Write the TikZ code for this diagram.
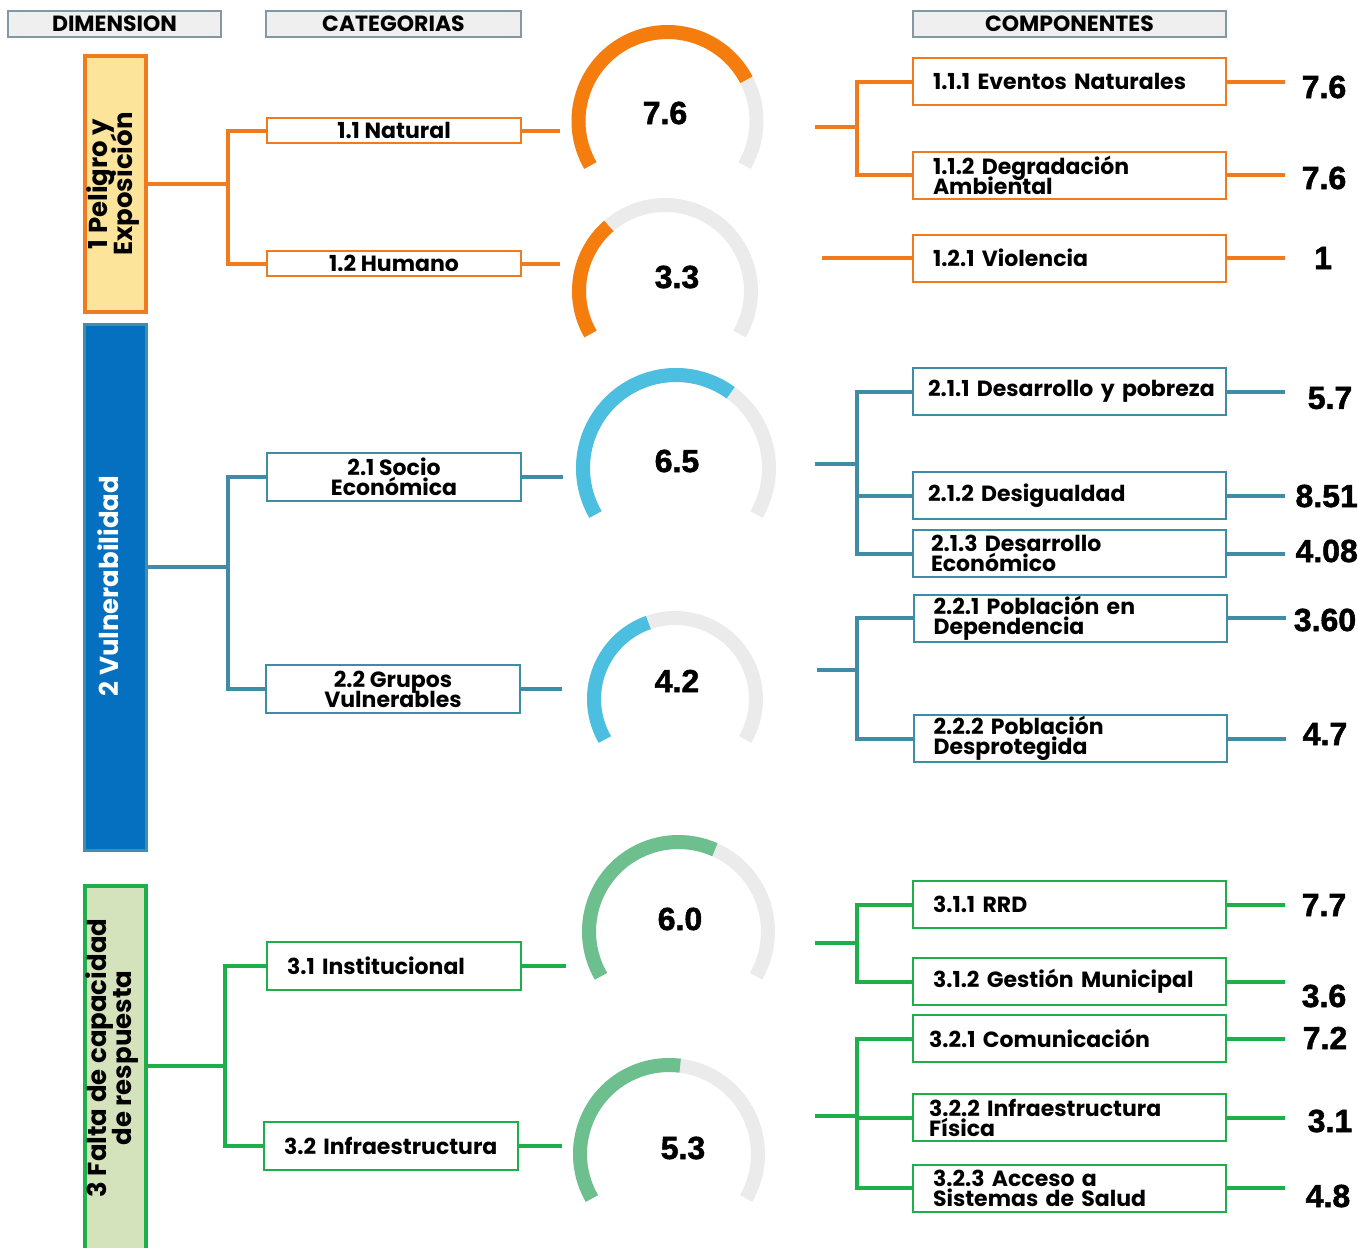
\documentclass[tikz,border=0pt]{standalone}
\usepackage{fontspec}
\setmainfont{Poppins}
\newfontfamily\numfont[BoldFeatures={FakeBold=1.6}]{Liberation Sans}
\newcommand\tightlines{\lineskiplimit=-30pt\relax}
\definecolor{orL}{HTML}{F07B1E}
\definecolor{yelF}{HTML}{FDE49B}
\definecolor{bluF}{HTML}{0570C0}
\definecolor{bluB}{HTML}{3E90A8}
\definecolor{tealL}{HTML}{3E8CA5}
\definecolor{grnL}{HTML}{1CAF4B}
\definecolor{grnF}{HTML}{D5E3BC}
\definecolor{hdrF}{HTML}{EFEFEF}
\definecolor{hdrB}{HTML}{8299A5}
\definecolor{gGray}{HTML}{EBEBEB}
\definecolor{gOr}{HTML}{F57D0D}
\definecolor{gBlu}{HTML}{4CBEE0}
\definecolor{gGrn}{HTML}{6DBF8E}
\newcommand\gaugedraw[6]{%
  \coordinate (#1) at (#2,#3);
  \draw[line width=14pt, gGray] (#1) ++(210:#4pt) arc[start angle=210, end angle=-30, radius=#4pt];
  \draw[line width=14pt, #6] (#1) ++(210:#4pt) arc[start angle=210, end angle={210-24*#5}, radius=#4pt];
}
\begin{document}
\begin{tikzpicture}[x=1pt,y=-1pt,
  hdr/.style={draw=hdrB, fill=hdrF, line width=2pt, minimum width=#1, minimum height=26pt, inner sep=0pt, font=\fontsize{22}{22}\selectfont\bfseries},
  dimtxt/.style={rotate=90, align=center, font=\fontsize{26}{25}\selectfont\bfseries\tightlines},
  cat/.style={draw=#1, fill=white, line width=2pt, minimum width=254pt, inner sep=0pt, align=center, font=\fontsize{22}{20}\selectfont\bfseries\tightlines},
  catl/.style={cat=#1, inner xsep=20pt, text width=214pt, align=left},
  comp/.style={draw=#1, fill=white, line width=2pt, minimum width=313pt, minimum height=47pt, inner xsep=20pt, inner ysep=0pt, text width=273pt, align=left, font=\fontsize{22}{20}\selectfont\bfseries\tightlines},
  conn/.style={draw=#1, line width=4pt},
  val/.style={font=\numfont\fontsize{32}{32}\selectfont\bfseries},
  gval/.style={font=\numfont\fontsize{32}{32}\selectfont\bfseries},
]
\useasboundingbox (0,0) rectangle (1358,1248);

% headers
\node[hdr=213pt] (hdim) at (114.5,24) {DIMENSION};
\node[hdr=255pt] (hcat) at (393.5,24) {CATEGORIAS};
\node[hdr=313pt] (hcomp) at (1069.5,24) {COMPONENTES};

% dimension boxes
\node[draw=orL, fill=yelF, line width=4pt, minimum width=61pt, minimum height=256pt, inner sep=0pt] (d1) at (115.5,184) {};
\node[dimtxt] (d1t) at (113,184) {1 Peligro y\\Exposición};
\node[draw=bluB, fill=bluF, line width=3pt, minimum width=62pt, minimum height=526pt, inner sep=0pt] (d2) at (115.5,587.5) {};
\node[dimtxt, text=white] (d2t) at (108,586) {2 Vulnerabilidad};
\node[draw=grnL, fill=grnF, line width=4pt, minimum width=61pt, minimum height=376pt, inner sep=0pt] (d3) at (115.5,1074) {};
\node[dimtxt] (d3t) at (112,1058) {3 Falta de capacidad\\de respuesta};

% category boxes
\node[cat=orL, minimum height=25pt] (c11) at (394,130.5) {1.1 Natural};
\node[cat=orL, minimum height=25pt] (c12) at (394,263.5) {1.2 Humano};
\node[cat=tealL, minimum height=48pt] (c21) at (394,477) {2.1 Socio\\Económica};
\node[cat=tealL, minimum height=48pt] (c22) at (393,689) {2.2 Grupos\\Vulnerables};
\node[catl=grnL, minimum height=48pt] (c31) at (394,966) {3.1 Institucional};
\node[catl=grnL, minimum height=48pt] (c32) at (391,1146) {3.2 Infraestructura};

% dimension -> category connectors
\coordinate (k1) at (228,184);
\coordinate (k2) at (228,567);
\coordinate (k3) at (225,1066);
\draw[conn=orL] (d1.east |- k1) -- (k1);
\draw[conn=orL] (c11.west) -| (k1) |- (c12.west);
\draw[conn=tealL] (d2.east |- k2) -- (k2);
\draw[conn=tealL] (c21.west) -| (k2) |- (c22.west);
\draw[conn=grnL] (d3.east |- k3) -- (k3);
\draw[conn=grnL] (c31.west) -| (k3) |- (c32.west);

% gauges
\gaugedraw{g11}{667.5}{121}{89}{7.6}{gOr}
\gaugedraw{g12}{665}{291}{86}{3.3}{gOr}
\gaugedraw{g21}{676}{468}{93}{6.5}{gBlu}
\gaugedraw{g22}{675}{699}{81}{4.2}{gBlu}
\gaugedraw{g31}{678.5}{931.5}{89.5}{6.0}{gGrn}
\gaugedraw{g32}{669}{1154}{89}{5.3}{gGrn}
\node[gval] (v11) at (665,113) {7.6};
\node[gval] (v12) at (677,277) {3.3};
\node[gval] (v21) at (677,461) {6.5};
\node[gval] (v22) at (677,681) {4.2};
\node[gval] (v31) at (680,919) {6.0};
\node[gval] (v32) at (683,1148) {5.3};

% category -> gauge stubs
\coordinate (s11) at (560,131);
\coordinate (s12) at (560,264);
\coordinate (s21) at (563,477);
\coordinate (s22) at (562,689);
\coordinate (s31) at (566,966);
\coordinate (s32) at (562,1146);
\draw[conn=orL] (c11.east) -- (c11.east -| s11);
\draw[conn=orL] (c12.east) -- (c12.east -| s12);
\draw[conn=tealL] (c21.east) -- (c21.east -| s21);
\draw[conn=tealL] (c22.east) -- (c22.east -| s22);
\draw[conn=grnL] (c31.east) -- (c31.east -| s31);
\draw[conn=grnL] (c32.east) -- (c32.east -| s32);

% component boxes
\node[comp=orL] (p111) at (1069.5,81.5) {1.1.1 Eventos Naturales};
\node[comp=orL] (p112) at (1069.5,175) {1.1.2 Degradación\\Ambiental};
\node[comp=orL] (p121) at (1069.5,258) {1.2.1 Violencia};
\node[comp=tealL, inner xsep=15pt, text width=283pt] (p211) at (1069.5,391.5) {\mbox{2.1.1 Desarrollo y pobreza}};
\node[comp=tealL, inner xsep=15pt, text width=283pt] (p212) at (1069.5,495.5) {2.1.2 Desigualdad};
\node[comp=tealL, inner xsep=18pt, text width=277pt] (p213) at (1069.5,553.5) {2.1.3 Desarrollo\\Económico};
\node[comp=tealL] (p221) at (1070,618) {2.2.1 Población en\\Dependencia};
\node[comp=tealL] (p222) at (1070,738.5) {2.2.2 Población\\Desprotegida};
\node[comp=grnL] (p311) at (1069.5,904.5) {3.1.1 RRD};
\node[comp=grnL] (p312) at (1069.5,981.5) {3.1.2 Gestión Municipal};
\node[comp=grnL, inner xsep=16pt, text width=281pt] (p321) at (1069.5,1038.5) {3.2.1 Comunicación};
\node[comp=grnL, inner xsep=16pt, text width=281pt] (p322) at (1069.5,1117.5) {3.2.2 Infraestructura\\Física};
\node[comp=grnL] (p323) at (1069.5,1188) {3.2.3 Acceso a\\Sistemas de Salud};

% gauge -> component connectors
\coordinate (j11) at (857,127);
\coordinate (t11) at (815,127);
\draw[conn=orL] (t11) -- (j11);
\draw[conn=orL] (p111.west) -| (j11) |- (p112.west);
\coordinate (t12) at (822,258);
\draw[conn=orL] (t12) -- (p121.west);
\coordinate (j21) at (857,464);
\coordinate (t21) at (815,464);
\draw[conn=tealL] (t21) -- (j21);
\draw[conn=tealL] (p211.west) -| (j21) |- (p213.west);
\draw[conn=tealL] (j21 |- p212.west) -- (p212.west);
\coordinate (j22) at (857,670);
\coordinate (t22) at (817,670);
\draw[conn=tealL] (t22) -- (j22);
\draw[conn=tealL] (p221.west) -| (j22) |- (p222.west);
\coordinate (j31) at (857,943);
\coordinate (t31) at (815,943);
\draw[conn=grnL] (t31) -- (j31);
\draw[conn=grnL] (p311.west) -| (j31) |- (p312.west);
\coordinate (j32) at (857,1116);
\coordinate (t32) at (815,1116);
\draw[conn=grnL] (t32) -- (j32);
\draw[conn=grnL] (p321.west) -| (j32) |- (p323.west);
\draw[conn=grnL] (j32 |- p322.west) -- (p322.west);

% component values
\node[val] (n111) at (1324,87) {7.6};
\node[val] (n112) at (1324,178) {7.6};
\node[val] (n121) at (1323,258) {1};
\node[val] (n211) at (1330,398) {5.7};
\node[val, anchor=west] (n212) at (1292,496) {8.51};
\node[val, anchor=west] (n213) at (1292,551) {4.08};
\node[val] (n221) at (1325,620) {3.60};
\node[val] (n222) at (1325,734) {4.7};
\node[val] (n311) at (1324,905) {7.7};
\node[val] (n312) at (1324,996) {3.6};
\node[val] (n321) at (1325,1038) {7.2};
\node[val] (n322) at (1330,1121) {3.1};
\node[val] (n323) at (1328,1196) {4.8};
\foreach \p in {111,112,121,211,212,213,221,222,311,312,321,322,323}{
  \coordinate (e\p) at ([xshift=58pt]p\p.east);
}
\draw[conn=orL] (p111.east) -- (e111);
\draw[conn=orL] (p112.east) -- (e112);
\draw[conn=orL] (p121.east) -- (e121);
\draw[conn=tealL] (p211.east) -- (e211);
\draw[conn=tealL] (p212.east) -- (e212);
\draw[conn=tealL] (p213.east) -- (e213);
\draw[conn=tealL] (p221.east) -- (e221);
\draw[conn=tealL] (p222.east) -- (e222);
\draw[conn=grnL] (p311.east) -- (e311);
\draw[conn=grnL] (p312.east) -- (e312);
\draw[conn=grnL] (p321.east) -- (e321);
\draw[conn=grnL] (p322.east) -- (e322);
\draw[conn=grnL] (p323.east) -- (e323);
\end{tikzpicture}
\end{document}
